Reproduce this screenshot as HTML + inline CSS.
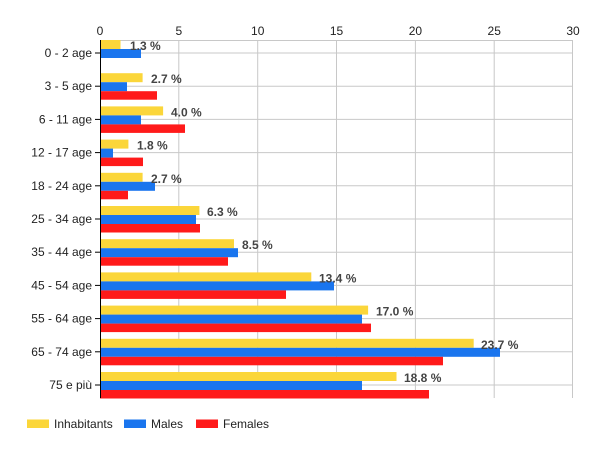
<!DOCTYPE html>
<html><head><meta charset="utf-8"><style>body{margin:0;background:#fff}svg{display:block}text{font-family:"Liberation Sans",Arial,sans-serif;font-size:12px;fill:#222}</style></head>
<body>
<svg width="600" height="450" xmlns="http://www.w3.org/2000/svg">
<g stroke="#c8c8c8" stroke-width="1">
<line x1="178.8" y1="40" x2="178.8" y2="398"/><line x1="257.7" y1="40" x2="257.7" y2="398"/><line x1="336.5" y1="40" x2="336.5" y2="398"/><line x1="415.4" y1="40" x2="415.4" y2="398"/><line x1="494.2" y1="40" x2="494.2" y2="398"/><line x1="572.5" y1="40" x2="572.5" y2="398"/>
<line x1="100" y1="40.5" x2="573" y2="40.5"/>
<line x1="100" y1="53" x2="573" y2="53"/><line x1="100" y1="86.2" x2="573" y2="86.2"/><line x1="100" y1="119.4" x2="573" y2="119.4"/><line x1="100" y1="152.6" x2="573" y2="152.6"/><line x1="100" y1="185.8" x2="573" y2="185.8"/><line x1="100" y1="219" x2="573" y2="219"/><line x1="100" y1="252.2" x2="573" y2="252.2"/><line x1="100" y1="285.4" x2="573" y2="285.4"/><line x1="100" y1="318.6" x2="573" y2="318.6"/><line x1="100" y1="351.8" x2="573" y2="351.8"/><line x1="100" y1="385" x2="573" y2="385"/>
</g>
<g fill="#fbd63a">
<rect x="100" y="40" width="20.5" height="9"/><rect x="100" y="73.2" width="42.6" height="9"/><rect x="100" y="106.4" width="63.1" height="9"/><rect x="100" y="139.6" width="28.4" height="9"/><rect x="100" y="172.8" width="42.6" height="9"/><rect x="100" y="206" width="99.4" height="9"/><rect x="100" y="239.2" width="134" height="9"/><rect x="100" y="272.4" width="211.3" height="9"/><rect x="100" y="305.6" width="268.1" height="9"/><rect x="100" y="338.8" width="373.7" height="9"/><rect x="100" y="372" width="296.5" height="9"/>
</g>
<g fill="#1a75ee">
<rect x="100" y="49" width="41" height="9"/><rect x="100" y="82.2" width="27" height="9"/><rect x="100" y="115.4" width="41" height="9"/><rect x="100" y="148.6" width="13" height="9"/><rect x="100" y="181.8" width="55" height="9"/><rect x="100" y="215" width="96" height="9"/><rect x="100" y="248.2" width="138" height="9"/><rect x="100" y="281.4" width="234" height="9"/><rect x="100" y="314.6" width="262" height="9"/><rect x="100" y="347.8" width="400" height="9"/><rect x="100" y="381" width="262" height="9"/>
</g>
<g fill="#ff1a1a">
<rect x="100" y="91.2" width="57" height="8.5"/><rect x="100" y="124.4" width="85" height="8.5"/><rect x="100" y="157.6" width="43" height="8.5"/><rect x="100" y="190.8" width="28" height="8.5"/><rect x="100" y="224" width="100" height="8.5"/><rect x="100" y="257.2" width="128" height="8.5"/><rect x="100" y="290.4" width="186" height="8.5"/><rect x="100" y="323.6" width="271" height="8.5"/><rect x="100" y="356.8" width="343" height="8.5"/><rect x="100" y="390" width="329" height="8.5"/>
</g>
<g stroke="#000" stroke-width="1">
<line x1="100.5" y1="40" x2="100.5" y2="398"/>
<line x1="95" y1="53" x2="100" y2="53"/><line x1="95" y1="86.2" x2="100" y2="86.2"/><line x1="95" y1="119.4" x2="100" y2="119.4"/><line x1="95" y1="152.6" x2="100" y2="152.6"/><line x1="95" y1="185.8" x2="100" y2="185.8"/><line x1="95" y1="219" x2="100" y2="219"/><line x1="95" y1="252.2" x2="100" y2="252.2"/><line x1="95" y1="285.4" x2="100" y2="285.4"/><line x1="95" y1="318.6" x2="100" y2="318.6"/><line x1="95" y1="351.8" x2="100" y2="351.8"/><line x1="95" y1="385" x2="100" y2="385"/>
</g>
<g text-anchor="middle">
<text x="100" y="35">0</text><text x="178.8" y="35">5</text><text x="257.7" y="35">10</text><text x="336.5" y="35">15</text><text x="415.4" y="35">20</text><text x="494.2" y="35">25</text><text x="573" y="35">30</text>
</g>
<g text-anchor="end">
<text x="92" y="57">0 - 2 age</text><text x="92" y="90.2">3 - 5 age</text><text x="92" y="123.4">6 - 11 age</text><text x="92" y="156.6">12 - 17 age</text><text x="92" y="189.8">18 - 24 age</text><text x="92" y="223">25 - 34 age</text><text x="92" y="256.2">35 - 44 age</text><text x="92" y="289.4">45 - 54 age</text><text x="92" y="322.6">55 - 64 age</text><text x="92" y="355.8">65 - 74 age</text><text x="92" y="389">75 e più</text>
</g>
<g style="font-weight:bold">
<text x="130" y="50" fill="#444" style="fill:#444">1.3 %</text>
<text x="151" y="83.2" style="fill:#444">2.7 %</text>
<text x="171" y="116.4" style="fill:#444">4.0 %</text>
<text x="137" y="149.6" style="fill:#444">1.8 %</text>
<text x="151" y="182.8" style="fill:#444">2.7 %</text>
<text x="207" y="216" style="fill:#444">6.3 %</text>
<text x="242" y="249.2" style="fill:#444">8.5 %</text>
<text x="319" y="282.4" style="fill:#444">13.4 %</text>
<text x="376" y="315.6" style="fill:#444">17.0 %</text>
<text x="481" y="348.8" style="fill:#444">23.7 %</text>
<text x="404" y="382" style="fill:#444">18.8 %</text>
</g>
<rect x="27" y="419.5" width="22" height="8.5" fill="#fbd63a"/><text x="54" y="428">Inhabitants</text>
<rect x="124" y="419.5" width="22" height="8.5" fill="#1a75ee"/><text x="151" y="428">Males</text>
<rect x="196" y="419.5" width="22" height="8.5" fill="#ff1a1a"/><text x="223" y="428">Females</text>
</svg>
</body></html>
